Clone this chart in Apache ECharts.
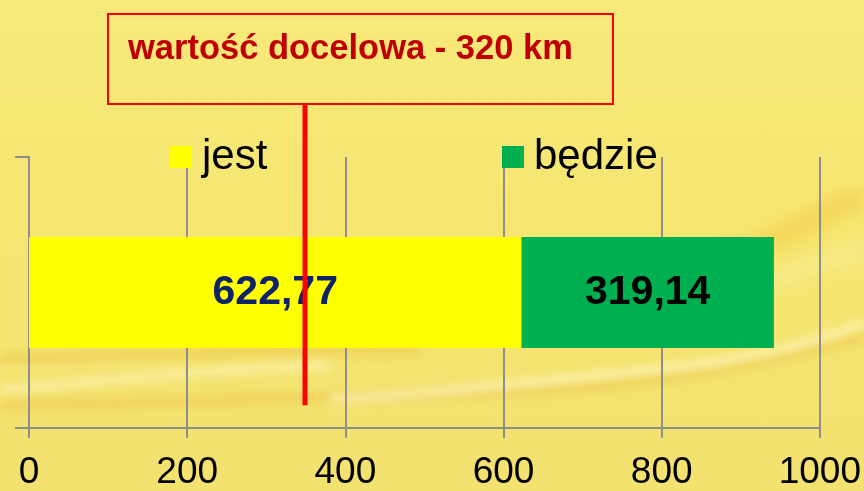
<!DOCTYPE html>
<html>
<head>
<meta charset="utf-8">
<script src="https://cdn.jsdelivr.net/npm/echarts@6/dist/echarts.min.js"></script>
<style>
html,body{margin:0;padding:0;overflow:hidden;}
#wrap{position:relative;width:864px;height:491px;background:linear-gradient(180deg,#F8EA7A 0%,#F5E570 55%,#F3E170 100%);}
#bg{position:absolute;left:0;top:0;}
#chart{position:absolute;left:0;top:0;width:864px;height:491px;}
</style>
</head>
<body>
<div id="wrap">
<svg id="bg" width="864" height="491" xmlns="http://www.w3.org/2000/svg">
  <defs>
    <filter id="b4" x="-10%" y="-50%" width="120%" height="200%"><feGaussianBlur stdDeviation="4"/></filter>
    <filter id="b8" x="-10%" y="-50%" width="120%" height="200%"><feGaussianBlur stdDeviation="8"/></filter>
  </defs>
  <path d="M0,360 C150,352 300,350 420,352" stroke="rgba(236,196,70,0.5)" stroke-width="10" fill="none" filter="url(#b4)"/>
  <path d="M0,390 C120,380 220,368 330,366" stroke="rgba(255,250,205,0.55)" stroke-width="8" fill="none" filter="url(#b4)"/>
  <path d="M0,406 C200,401 400,397 560,389 C680,381 780,361 864,336" stroke="rgba(236,190,70,0.45)" stroke-width="10" fill="none" filter="url(#b4)"/>
  <path d="M330,399 C450,393 560,379 680,367 C760,357 820,341 864,323" stroke="rgba(255,250,205,0.65)" stroke-width="8" fill="none" filter="url(#b4)"/>
  <path d="M640,300 C720,270 780,235 864,195" stroke="rgba(244,200,70,0.55)" stroke-width="22" fill="none" filter="url(#b8)"/>
  <path d="M600,330 C700,305 780,275 864,250" stroke="rgba(255,245,190,0.4)" stroke-width="14" fill="none" filter="url(#b8)"/>
</svg>
<div id="chart"></div>
</div>
<script>
// ---- data ----
var categories = [''];
var seriesNames = ['jest', 'będzie'];
var jestValues = [622.77];
var bedzieValues = [319.14];
var xTicks = [0, 200, 400, 600, 800, 1000];
var targetLabel = 'wartość docelowa - 320 km';
var targetLineX = 349;               // position of the red marker on the value axis
var targetLineSpan = [0.084, 1.195]; // vertical extent of the marker (fraction of plot height)

var FONT = '"Liberation Sans", Arial, sans-serif';
function fmt(v){ return v.toFixed(2).replace('.', ','); }

var chart = echarts.init(document.getElementById('chart'), null, {renderer:'canvas'});
chart.setOption({
  backgroundColor: 'transparent',
  animation: false,
  textStyle: {fontFamily: FONT},
  grid: {left: 29, right: 40, top: 157, bottom: 57, containLabel: false},
  legend: [
    {data: [seriesNames[0]], left: 170, top: 136, padding: 0, icon: 'rect', itemWidth: 22, itemHeight: 22,
     textStyle: {fontSize: 42, color: '#000', fontFamily: FONT, padding: [10,0,0,5]}},
    {data: [seriesNames[1]], left: 502, top: 136, padding: 0, icon: 'rect', itemWidth: 22, itemHeight: 22,
     textStyle: {fontSize: 42, color: '#000', fontFamily: FONT, padding: [10,0,0,5]}}
  ],
  xAxis: {
    type: 'value', min: xTicks[0], max: xTicks[xTicks.length-1], interval: 200,
    axisLine: {show: true, lineStyle: {color: '#8E8E8E', width: 2}},
    axisTick: {show: true, length: 10, lineStyle: {color: '#8E8E8E', width: 2}},
    splitLine: {show: true, lineStyle: {color: '#8E8E8E', width: 2}},
    axisLabel: {fontSize: 37, color: '#000', fontFamily: FONT, margin: 26,
                formatter: function(v){ return String(v); }}
  },
  yAxis: [
    {type: 'category', data: categories, boundaryGap: true,
     axisLine: {show: true, lineStyle: {color: '#8E8E8E', width: 2}},
     axisTick: {show: true, length: 14, lineStyle: {color: '#8E8E8E', width: 2}},
     axisLabel: {show: false}, splitLine: {show: false}},
    {type: 'value', min: 0, max: 1, show: false, splitLine: {show: false}}
  ],
  graphic: [{
    type: 'group', left: 107, top: 13,
    children: [
      {type: 'rect', shape: {x: 0, y: 0, width: 505, height: 90},
       style: {fill: 'rgba(0,0,0,0)', stroke: '#FF0000', lineWidth: 2}},
      {type: 'text', x: 20, y: 35,
       style: {text: targetLabel, fill: '#C00000', font: 'bold 34.5px ' + FONT, verticalAlign: 'middle'}}
    ]
  }],
  series: [
    {name: seriesNames[0], type: 'bar', stack: 'total', data: jestValues, barWidth: 111,
     itemStyle: {color: '#FFFF00'},
     label: {show: true, position: 'inside', fontSize: 41, fontWeight: 'bold', color: '#0F2468', fontFamily: FONT,
             formatter: function(p){ return fmt(p.value); }}},
    {name: seriesNames[1], type: 'bar', stack: 'total', data: bedzieValues, barWidth: 111,
     itemStyle: {color: '#00B050'},
     label: {show: true, position: 'inside', fontSize: 41, fontWeight: 'bold', color: '#000', fontFamily: FONT,
             formatter: function(p){ return fmt(p.value); }}},
    {name: 'target', type: 'line', xAxisIndex: 0, yAxisIndex: 1, clip: false, silent: true,
     symbol: 'none', lineStyle: {color: '#FF0000', width: 5}, z: 5,
     data: [[targetLineX, targetLineSpan[0]], [targetLineX, targetLineSpan[1]]]}
  ]
});
</script>
</body>
</html>
